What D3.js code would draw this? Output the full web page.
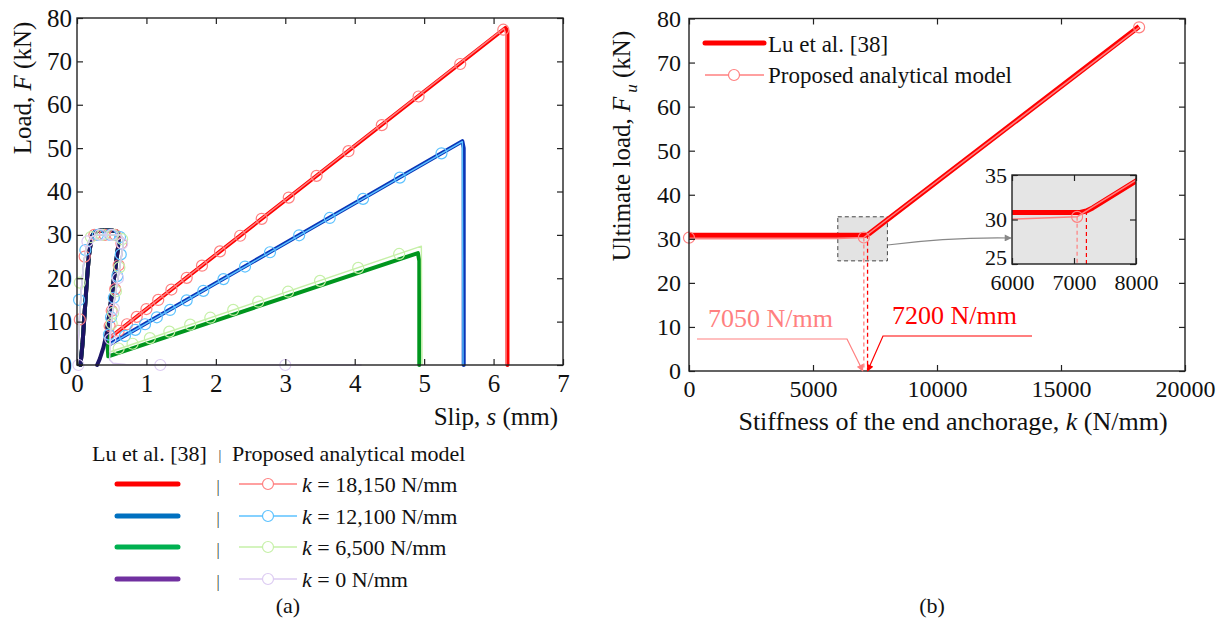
<!DOCTYPE html>
<html><head><meta charset="utf-8">
<script src="https://cdn.jsdelivr.net/npm/d3@7"></script>
<style>
body{margin:0;background:#fff}
text{font-family:"Liberation Serif","Times New Roman",serif;fill:#111}
</style>
</head><body>
<svg id="c" width="1231" height="631"></svg>
<script>
// ---------- Left chart (a) data ----------
const slipTicks = [0,1,2,3,4,5,6,7];
const loadTicks = [0,10,20,30,40,50,60,70,80];
const stiffLabels = ["18,150","12,100","6,500","0"];

// Lu et al. [38] curves (shared pre-peak + snap-back, then series specific)
const luPre = [[0.05,0],[0.08,5],[0.11,12],[0.14,19],[0.17,25],[0.21,29.5],[0.26,30.8],[0.35,31],[0.5,31],[0.57,30.8],[0.6,30],[0.59,27],[0.55,22],[0.5,16],[0.46,11],[0.43,7.5]];
const luPostRed = [[0.45,6],[6.17,77.7],[6.2,77],[6.2,0]];
const luPostBlue = [[0.45,4.6],[5.55,51.6],[5.57,50],[5.57,0]];
const luPostGreen = [[0.45,2],[4.91,25.8],[4.93,24],[4.93,0]];
const luPostNavy = [[0.38,4],[0.33,1.5],[0.29,0]];

// Proposed analytical model curves
const propPre = [[0,0],[0.02,6],[0.04,12],[0.07,19],[0.1,24],[0.14,27.5],[0.2,29.5],[0.27,30],[0.4,30],[0.55,30],[0.63,30],[0.67,29],[0.66,27],[0.63,24],[0.6,21],[0.57,18],[0.54,15],[0.51,12],[0.49,9.5]];
const propPostRed = [[0.47,6.3],[6.15,77.6],[6.18,76],[6.18,0]];
const propPostBlue = [[0.47,4.7],[5.55,51.5],[5.56,0]];
const propPostGreen = [[0.47,3],[4.96,27.4],[4.97,0]];
const propPostLav = [[0.47,1.2],[0.52,0.4],[0.7,0.1],[4.1,0]];

const markRed = [[0.04,10.5],[0.11,25],[0.25,30],[0.4,30],[0.55,30],[0.64,28],[0.6,23],[0.55,17.5],[0.5,12.5],[0.47,9],
  [0.6,7.9],[0.72,9.4],[0.86,11.1],[1.0,12.9],[1.17,15.0],[1.36,17.4],[1.58,20.1],[1.8,22.9],[2.06,26.2],[2.35,29.8],[2.66,33.7],[3.05,38.6],[3.45,43.6],[3.91,49.3],[4.39,55.3],[4.92,61.9],[5.52,69.4],[6.14,77.3]];
const markBlue = [[0.03,15],[0.12,26.5],[0.3,30],[0.48,30],[0.62,29.5],[0.63,25.5],[0.58,20.5],[0.53,15.5],[0.49,11],[0.46,7],
  [0.69,6.7],[0.84,8.1],[0.98,9.4],[1.15,11.0],[1.34,12.7],[1.58,14.9],[1.82,17.1],[2.11,19.8],[2.42,22.7],[2.78,26.0],[3.2,29.9],[3.64,33.9],[4.12,38.3],[4.65,43.2],[5.25,48.8]];
const markGreen = [[0.04,19],[0.2,29.5],[0.36,30],[0.52,30],[0.65,29],[0.61,22.5],[0.56,17],[0.52,12],[0.5,9.5],
  [0.6,3.8],[0.8,4.9],[1.05,6.2],[1.33,7.7],[1.63,9.3],[1.92,10.9],[2.25,12.7],[2.61,14.6],[3.04,16.9],[3.5,19.4],[4.05,22.4],[4.64,25.6]];
const markLav = [[0.02,0],[0.15,28.5],[0.33,30],[0.5,30],[0.65,28],[0.59,20],[0.53,13],[0.48,6],[1.2,0],[3.0,0]];

// ---------- Right chart (b) data ----------
const kTicks = [0,5000,10000,15000,20000];
const fuTicks = [0,10,20,30,40,50,60,70,80];
const insetKTicks = [6000,7000,8000];
const insetFTicks = [25,30,35];
const ultLu = [[0,30.8],[7100,30.8],[7200,30.95],[7300,31.3],[18150,78.2]];
const ultProp = [[0,30.0],[6000,30.05],[7050,30.3],[7250,31.2],[18150,78]];
const ultPropMarks = [[0,30.25],[7050,30.3],[18150,78]];
const kCritProp = 7050, fCritProp = 30.3;
const kCritLu = 7200, fCritLu = 30.95;
const zoomBox = {k0:6000,k1:8000,f0:25,f1:35};

// ---------- colours ----------
const C = {
  red:'#ff0000', pink:'#ff8080',
  blueDark:'#0a36b8', blueLeg:'#0070c0', blueLight:'#5cc2ff',
  green:'#00961e', greenLeg:'#00b050', greenLight:'#c6f0a8',
  navy:'#1c1466', purple:'#7030a0', lav:'#dccbf2'
};

const svg = d3.select('#c');
const defs = svg.append('defs');
function arrowMarker(id,color){
  defs.append('marker').attr('id',id).attr('viewBox','0 0 10 10').attr('refX',9).attr('refY',5)
    .attr('markerWidth',9).attr('markerHeight',7).attr('markerUnits','userSpaceOnUse').attr('orient','auto')
    .append('path').attr('d','M0,0 L10,5 L0,10 z').attr('fill',color);
}
arrowMarker('arPink',C.pink); arrowMarker('arRed',C.red); arrowMarker('arGray','#888');

function frame(g,x,y,xt,yt,fs,padX,padY,lowShift){
  const [x0,x1]=x.range(), [y0,y1]=y.range();
  const ax = g.append('g').attr('transform',`translate(0,${y0})`)
    .call(d3.axisBottom(x).tickValues(xt).tickSize(-6).tickSizeOuter(0).tickPadding(padX).tickFormat(d3.format('d')));
  const ay = g.append('g').attr('transform',`translate(${x0},0)`)
    .call(d3.axisLeft(y).tickValues(yt).tickSize(-6).tickSizeOuter(0).tickPadding(padY).tickFormat(d3.format('d')));
  const at = g.append('g').attr('transform',`translate(0,${y1})`)
    .call(d3.axisTop(x).tickValues(xt).tickSize(-6).tickSizeOuter(0).tickFormat(''));
  const ar = g.append('g').attr('transform',`translate(${x1},0)`)
    .call(d3.axisRight(y).tickValues(yt).tickSize(-6).tickSizeOuter(0).tickFormat(''));
  [ax,ay,at,ar].forEach(a=>{a.attr('font-family',null).attr('font-size',null);
    a.select('.domain').remove(); a.selectAll('line').attr('stroke','#222').attr('stroke-width',1.2);
    a.selectAll('text').style('font-size',fs+'px').attr('fill','#111');});
  if(lowShift) ay.selectAll('text').filter(d=>d===yt[0]).attr('y',lowShift);
  g.append('rect').attr('x',x0).attr('y',y1).attr('width',x1-x0).attr('height',y0-y1)
    .attr('fill','none').attr('stroke','#222').attr('stroke-width',1.4);
}

// ================= LEFT CHART =================
const xL = d3.scaleLinear([0,7],[77,563]);
const yL = d3.scaleLinear([0,80],[365,18]);
const gL = svg.append('g');
const lineL = d3.line().x(d=>xL(d[0])).y(d=>yL(d[1]));

const luSeries = [
  {post:luPostRed,color:C.red},
  {post:luPostBlue,color:C.blueDark},
  {post:luPostGreen,color:C.green},
  {post:luPostNavy,color:C.navy}
];
luSeries.forEach(s=>{
  gL.append('path').attr('d',lineL(luPre.concat(s.post))).attr('fill','none')
    .attr('stroke',s.color).attr('stroke-width',4).attr('stroke-linejoin','round').attr('stroke-linecap','round');
});
const propSeries = [
  {post:propPostRed,marks:markRed,color:C.pink},
  {post:propPostBlue,marks:markBlue,color:C.blueLight},
  {post:propPostGreen,marks:markGreen,color:C.greenLight},
  {post:propPostLav,marks:markLav,color:C.lav}
];
propSeries.forEach(s=>{
  gL.append('path').attr('d',lineL(propPre.concat(s.post))).attr('fill','none')
    .attr('stroke',s.color).attr('stroke-width',1.4).attr('stroke-linejoin','round');
  gL.selectAll(null).data(s.marks).enter().append('circle')
    .attr('cx',d=>xL(d[0])).attr('cy',d=>yL(d[1])).attr('r',5.5)
    .attr('fill','none').attr('stroke',s.color).attr('stroke-width',1.2);
});
frame(gL,xL,yL,slipTicks,loadTicks,25,9,5);

// axis titles
gL.append('text').attr('transform','translate(31,88) rotate(-90)').attr('text-anchor','middle')
  .style('font-size','25px').html('Load, <tspan font-style="italic">F</tspan> (kN)');
gL.append('text').attr('x',558).attr('y',425).attr('text-anchor','end')
  .style('font-size','25px').html('Slip, <tspan font-style="italic">s</tspan> (mm)');

// legend (a)
const legL = svg.append('g');
legL.append('text').attr('x',92).attr('y',461).style('font-size','22px').text('Lu et al. [38]');
legL.append('text').attr('x',220).attr('y',460).attr('text-anchor','middle').style('font-size','14px').style('fill','#333').text('|');
legL.append('text').attr('x',232).attr('y',461).style('font-size','22px').text('Proposed analytical model');
const legRows = [
  {lu:C.red,prop:C.pink},
  {lu:C.blueLeg,prop:C.blueLight},
  {lu:C.greenLeg,prop:C.greenLight},
  {lu:C.purple,prop:C.lav}
];
const rowY = [484,516,547,579];
legRows.forEach((r,i)=>{
  const y=rowY[i];
  legL.append('line').attr('x1',117).attr('x2',178).attr('y1',y).attr('y2',y)
    .attr('stroke',r.lu).attr('stroke-width',5).attr('stroke-linecap','round');
  legL.append('text').attr('x',218).attr('y',y+8).attr('text-anchor','middle').style('font-size','16px').style('fill','#333').text('|');
  legL.append('line').attr('x1',239).attr('x2',297).attr('y1',y).attr('y2',y)
    .attr('stroke',r.prop).attr('stroke-width',1.4);
  legL.append('circle').attr('cx',268).attr('cy',y).attr('r',5.5).attr('fill','#fff')
    .attr('stroke',r.prop).attr('stroke-width',1.2);
  legL.append('text').attr('x',302).attr('y',y+8).style('font-size','22px')
    .html(`<tspan font-style="italic">k</tspan> = ${stiffLabels[i]} N/mm`);
});
svg.append('text').attr('x',288).attr('y',613).attr('text-anchor','middle').style('font-size','22px').text('(a)');

// ================= RIGHT CHART =================
const xR = d3.scaleLinear([0,20000],[689,1185]);
const yR = d3.scaleLinear([0,80],[371,18.5]);
const gR = svg.append('g');
const lineR = d3.line().x(d=>xR(d[0])).y(d=>yR(d[1]));

// zoom box
gR.append('rect').attr('x',xR(zoomBox.k0)).attr('y',yR(zoomBox.f1))
  .attr('width',xR(zoomBox.k1)-xR(zoomBox.k0)).attr('height',yR(zoomBox.f0)-yR(zoomBox.f1))
  .attr('fill','#e3e3e3').attr('stroke','#444').attr('stroke-width',1).attr('stroke-dasharray','4,3');

// dashed critical lines
gR.append('line').attr('x1',xR(kCritProp)).attr('x2',xR(kCritProp)).attr('y1',yR(fCritProp)).attr('y2',yR(0))
  .attr('stroke',C.pink).attr('stroke-width',1.3).attr('stroke-dasharray','4,3');
gR.append('line').attr('x1',xR(kCritLu)).attr('x2',xR(kCritLu)).attr('y1',yR(fCritLu)).attr('y2',yR(0))
  .attr('stroke',C.red).attr('stroke-width',1.3).attr('stroke-dasharray','4,3');

gR.append('path').attr('d',lineR(ultLu)).attr('fill','none').attr('stroke',C.red).attr('stroke-width',5).attr('stroke-linejoin','round');
gR.append('path').attr('d',lineR(ultProp)).attr('fill','none').attr('stroke',C.pink).attr('stroke-width',1.5).attr('stroke-linejoin','round');
gR.selectAll(null).data(ultPropMarks).enter().append('circle')
  .attr('cx',d=>xR(d[0])).attr('cy',d=>yR(d[1])).attr('r',5.5).attr('fill','none').attr('stroke',C.pink).attr('stroke-width',1.2);

frame(gR,xR,yR,kTicks,fuTicks,24,9,8);

// annotations
gR.append('path').attr('d',`M697,339 H847 L${xR(kCritProp)-1},${yR(0)}`).attr('fill','none')
  .attr('stroke',C.pink).attr('stroke-width',1.2).attr('marker-end','url(#arPink)');
gR.append('path').attr('d',`M1032,336 H883 L${xR(kCritLu)},${yR(0)}`).attr('fill','none')
  .attr('stroke',C.red).attr('stroke-width',1.2).attr('marker-end','url(#arRed)');
gR.append('text').attr('x',708).attr('y',327).style('font-size','26px').style('fill',C.pink).text(kCritProp+' N/mm');
gR.append('text').attr('x',892).attr('y',324).style('font-size','26px').style('fill',C.red).text(kCritLu+' N/mm');

// inset
const xI = d3.scaleLinear([zoomBox.k0,zoomBox.k1],[1012,1136]);
const yI = d3.scaleLinear([zoomBox.f0,zoomBox.f1],[264,175]);
// connector arrow
gR.append('path').attr('d',`M${xR(zoomBox.k1)},245 Q950,237 ${xI(zoomBox.k0)-1},238`).attr('fill','none')
  .attr('stroke','#888').attr('stroke-width',1.2).attr('marker-end','url(#arGray)');
const gI = svg.append('g');
gI.append('rect').attr('x',1012).attr('y',175).attr('width',124).attr('height',89).attr('fill','#e5e5e5');
defs.append('clipPath').attr('id','clipI').append('rect').attr('x',1012).attr('y',175).attr('width',124).attr('height',89);
const lineI = d3.line().x(d=>xI(d[0])).y(d=>yI(d[1]));
const gIc = gI.append('g').attr('clip-path','url(#clipI)');
gIc.append('line').attr('x1',xI(kCritProp)).attr('x2',xI(kCritProp)).attr('y1',yI(fCritProp)).attr('y2',yI(25))
  .attr('stroke',C.pink).attr('stroke-width',1.2).attr('stroke-dasharray','4,3');
gIc.append('line').attr('x1',xI(kCritLu)).attr('x2',xI(kCritLu)).attr('y1',yI(fCritLu)).attr('y2',yI(25))
  .attr('stroke',C.red).attr('stroke-width',1.2).attr('stroke-dasharray','4,3');
gIc.append('path').attr('d',lineI(ultLu)).attr('fill','none').attr('stroke',C.red).attr('stroke-width',5).attr('stroke-linejoin','round');
gIc.append('path').attr('d',lineI(ultProp)).attr('fill','none').attr('stroke',C.pink).attr('stroke-width',1.5);
gIc.selectAll(null).data(ultPropMarks).enter().append('circle')
  .attr('cx',d=>xI(d[0])).attr('cy',d=>yI(d[1])).attr('r',5.5).attr('fill','none').attr('stroke',C.pink).attr('stroke-width',1.2);
frame(gI,xI,yI,insetKTicks,insetFTicks,22,10,5,-7);

// legend (b)
const legR = svg.append('g');
legR.append('line').attr('x1',705).attr('x2',764).attr('y1',43).attr('y2',43).attr('stroke',C.red).attr('stroke-width',5).attr('stroke-linecap','round');
legR.append('text').attr('x',768).attr('y',52).style('font-size','23px').text('Lu et al. [38]');
legR.append('line').attr('x1',705).attr('x2',764).attr('y1',75).attr('y2',75).attr('stroke',C.pink).attr('stroke-width',1.5);
legR.append('circle').attr('cx',734).attr('cy',75).attr('r',5.5).attr('fill','#fff').attr('stroke',C.pink).attr('stroke-width',1.2);
legR.append('text').attr('x',768).attr('y',83).style('font-size','23px').text('Proposed analytical model');

// axis titles
gR.append('text').attr('transform','translate(630,146) rotate(-90)').attr('text-anchor','middle')
  .style('font-size','25px')
  .html('Ultimate load, <tspan font-style="italic">F</tspan><tspan font-style="italic" font-size="17px" dx="4" dy="7">u</tspan><tspan dy="-7"> (kN)</tspan>');
gR.append('text').attr('x',953).attr('y',430).attr('text-anchor','middle').style('font-size','26px')
  .html('Stiffness of the end anchorage, <tspan font-style="italic">k</tspan> (N/mm)');
svg.append('text').attr('x',932).attr('y',613).attr('text-anchor','middle').style('font-size','22px').text('(b)');
</script>
</body></html>
